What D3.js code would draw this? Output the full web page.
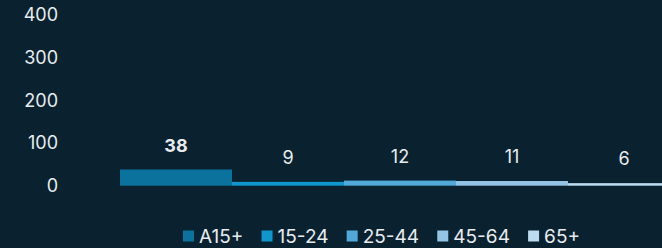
<!DOCTYPE html>
<html>
<head>
<meta charset="utf-8">
<script src="https://cdn.jsdelivr.net/npm/d3@7"></script>
<style>
  html, body { margin: 0; padding: 0; background: #0a2230; }
  svg { display: block; font-family: Inter, "Noto Sans", sans-serif; }
</style>
</head>
<body>
<div id="chartHolder"></div>
<script>
// age groups and values
const categories = ["A15+", "15-24", "25-44", "45-64", "65+"];
const values = [38, 9, 12, 11, 6];
const yTicks = [0, 100, 200, 300, 400];
const colors = ["#0a729c", "#0e96cd", "#52a8d8", "#93c4e6", "#bcdaf0"];

const width = 662, height = 248;
const textColor = "#e8ecee";

const svg = d3.select("#chartHolder")
  .append("svg")
  .attr("width", width)
  .attr("height", height);

// x band runs past the right edge, last bar is cut off
const x = d3.scaleBand()
  .domain(categories)
  .range([120, 680])
  .padding(0);

const y = d3.scaleLinear()
  .domain([0, 400])
  .range([185.7, 15.2]);

// y axis labels only
svg.append("g")
  .attr("transform", "translate(58,0)")
  .call(d3.axisLeft(y).tickValues(yTicks).tickSize(0).tickPadding(0))
  .call(g => g.select(".domain").remove())
  .selectAll("text")
  .attr("fill", textColor)
  .style("font-size", "18px")
  .style("font-family", "Inter, 'Noto Sans', sans-serif");

// bars
svg.append("g")
  .selectAll("rect")
  .data(values)
  .enter()
  .append("rect")
  .attr("x", (d, i) => x(categories[i]))
  .attr("y", d => y(d))
  .attr("width", x.bandwidth())
  .attr("height", d => y(0) - y(d))
  .attr("fill", (d, i) => colors[i]);

// value labels
svg.append("g")
  .selectAll("text")
  .data(values)
  .enter()
  .append("text")
  .attr("x", (d, i) => x(categories[i]) + x.bandwidth() / 2)
  .attr("y", d => y(d) - 24.5)
  .attr("text-anchor", "middle")
  .attr("dominant-baseline", "central")
  .attr("fill", textColor)
  .style("font-size", "18px")
  .style("font-weight", (d, i) => i === 0 ? "bold" : "normal")
  .text(d => d);

// legend, spread between x=183 and x=580
const legendLeft = 183, legendRight = 580;
const legend = svg.append("g").attr("transform", `translate(${legendLeft},236)`);
const items = categories.map((c, i) => {
  const item = legend.append("g");
  item.append("rect")
    .attr("x", 0)
    .attr("y", -5.5)
    .attr("width", 11)
    .attr("height", 11)
    .attr("fill", colors[i]);
  const t = item.append("text")
    .attr("x", 16)
    .attr("y", 0)
    .attr("dominant-baseline", "central")
    .attr("fill", textColor)
    .style("font-size", "19px")
    .text(c);
  return { item, w: 16 + t.node().getComputedTextLength() };
});
const totalW = d3.sum(items, d => d.w);
const gap = (legendRight - legendLeft - totalW) / (items.length - 1);
let lx = 0;
items.forEach(d => {
  d.item.attr("transform", `translate(${lx},0)`);
  lx += d.w + gap;
});
</script>
</body>
</html>
